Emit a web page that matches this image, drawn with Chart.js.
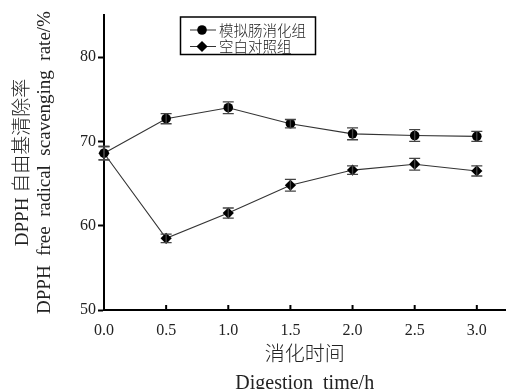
<!DOCTYPE html>
<html>
<head>
<meta charset="utf-8">
<script src="https://cdn.jsdelivr.net/npm/chart.js@4/dist/chart.umd.min.js"></script>
<style>
  html, body { margin: 0; padding: 0; background: #fff; }
  #wrap { width: 511px; height: 389px; }
</style>
</head>
<body>
<div id="wrap"><canvas id="c" width="511" height="389"></canvas></div>
<script>
// --- Data ---
const times = [0.0, 0.5, 1.0, 1.5, 2.0, 2.5, 3.0];
const xTickLabels = ['0.0', '0.5', '1.0', '1.5', '2.0', '2.5', '3.0'];
const yTickValues = [50, 60, 70, 80];

const seriesNames = ['模拟肠消化组', '空白对照组'];
const digestValues = [68.6, 72.7, 74.0, 72.1, 70.9, 70.7, 70.6];
const digestErrors = [0.8, 0.6, 0.7, 0.5, 0.7, 0.7, 0.6];
const blankValues = [68.6, 58.5, 61.5, 64.8, 66.6, 67.3, 66.5];
const blankErrors = [0.8, 0.5, 0.6, 0.7, 0.5, 0.7, 0.6];

const serif = '"Liberation Serif", "Times New Roman", serif';
const cjk = '"Noto Sans CJK SC", sans-serif';

function toPoints(vals) {
    return times.map((t, i) => ({ x: t, y: vals[i] }));
}

// --- Error bars, inward x ticks and boxed legend ---
const extras = {
    id: 'extras',
    afterDatasetsDraw(chart) {
        const ctx = chart.ctx;
        const xs = chart.scales.x, ys = chart.scales.y;
        ctx.save();
        ctx.strokeStyle = '#444';
        ctx.lineWidth = 1.3;
        chart.data.datasets.forEach(ds => {
            ds.errors.forEach((e, i) => {
                const px = xs.getPixelForValue(times[i]);
                const top = ys.getPixelForValue(ds.data[i].y + e);
                const bot = ys.getPixelForValue(ds.data[i].y - e);
                ctx.beginPath();
                ctx.moveTo(px, top); ctx.lineTo(px, bot);
                ctx.moveTo(px - 5.5, top); ctx.lineTo(px + 5.5, top);
                ctx.moveTo(px - 5.5, bot); ctx.lineTo(px + 5.5, bot);
                ctx.stroke();
            });
        });
        ctx.restore();
    },
    afterDraw(chart) {
        const ctx = chart.ctx;
        const xs = chart.scales.x;
        const area = chart.chartArea;
        ctx.save();
        // inward ticks on x axis
        ctx.strokeStyle = '#000';
        ctx.lineWidth = 2;
        times.slice(1).forEach(t => {
            const px = xs.getPixelForValue(t);
            ctx.beginPath();
            ctx.moveTo(px, area.bottom);
            ctx.lineTo(px, area.bottom - 5);
            ctx.stroke();
        });
        // legend box
        ctx.lineWidth = 1.5;
        ctx.strokeRect(180.5, 17, 135, 37.5);
        chart.data.datasets.forEach((ds, i) => {
            const y = 30 + i * 16.5;
            ctx.strokeStyle = '#333';
            ctx.lineWidth = 1;
            ctx.beginPath();
            ctx.moveTo(190, y); ctx.lineTo(216, y);
            ctx.stroke();
            ctx.fillStyle = '#000';
            Chart.helpers.drawPoint(ctx, {
                pointStyle: ds.pointStyle, radius: ds.pointRadius, rotation: 0, borderWidth: 0
            }, 202, y);
            ctx.fillStyle = '#222';
            ctx.font = '300 14.5px ' + cjk;
            ctx.textBaseline = 'middle';
            ctx.textAlign = 'left';
            ctx.fillText(ds.label, 219, y);
        });
        ctx.restore();
    }
};

const ctx = document.getElementById('c').getContext('2d');
new Chart(ctx, {
    type: 'line',
    data: {
        datasets: [
            {
                label: seriesNames[0],
                data: toPoints(digestValues),
                errors: digestErrors,
                pointStyle: 'circle',
                pointRadius: 4.8
            },
            {
                label: seriesNames[1],
                data: toPoints(blankValues),
                errors: blankErrors,
                pointStyle: 'rectRot',
                pointRadius: 5.6
            }
        ].map(d => Object.assign(d, {
            borderColor: '#333',
            borderWidth: 1.1,
            backgroundColor: '#000',
            pointBackgroundColor: '#000',
            pointBorderWidth: 0,
            pointHoverRadius: d.pointRadius,
            tension: 0,
            clip: false
        }))
    },
    options: {
        responsive: false,
        animation: false,
        layout: { padding: { top: 15, right: 1, left: 0, bottom: 0 } },
        plugins: { legend: { display: false }, tooltip: { enabled: false } },
        scales: {
            x: {
                type: 'linear',
                min: 0,
                max: 3.23,
                afterBuildTicks: s => { s.ticks = times.map(v => ({ value: v })); },
                afterFit: s => { s.height = 79; },
                grid: { drawOnChartArea: false, drawTicks: false },
                border: { color: '#000', width: 2 },
                ticks: {
                    padding: 11,
                    color: '#222',
                    maxRotation: 0,
                    font: { family: serif, size: 16 },
                    callback: (v, i) => xTickLabels[i]
                },
                title: {
                    display: true,
                    text: ['消化时间', 'Digestion  time/h'],
                    color: '#222',
                    font: { family: '"Liberation Serif", "Noto Sans CJK SC", serif', size: 20, weight: '300', lineHeight: 1.4 },
                    padding: { top: 4, bottom: -9 }
                }
            },
            y: {
                min: 50,
                max: 85,
                afterBuildTicks: s => { s.ticks = yTickValues.map(v => ({ value: v })); },
                afterFit: s => { s.width = 104; },
                grid: { drawOnChartArea: false, drawTicks: true, tickLength: 6, color: '#000', tickWidth: 2 },
                border: { color: '#000', width: 2 },
                ticks: {
                    padding: 2,
                    color: '#222',
                    font: { family: serif, size: 16 }
                },
                title: {
                    display: true,
                    text: ['DPPH 自由基清除率', 'DPPH  free  radical  scavenging  rate/%'],
                    color: '#222',
                    font: { family: '"Liberation Serif", "Noto Sans CJK SC", serif', size: 19, weight: '300', lineHeight: 1.16 },
                    padding: { top: 12, bottom: 0 }
                }
            }
        }
    },
    plugins: [extras]
});
</script>
</body>
</html>
